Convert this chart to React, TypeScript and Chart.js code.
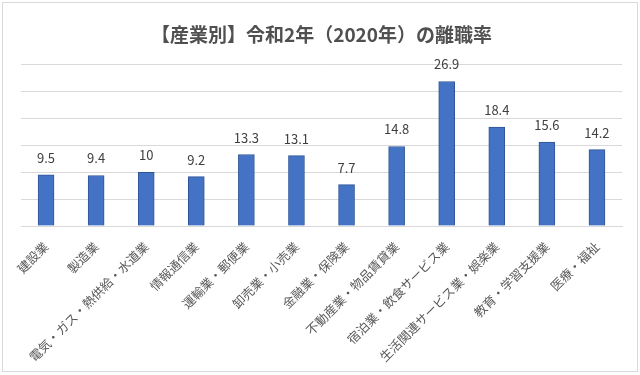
import React, { useEffect, useRef } from "react";
import { Chart, registerables } from "chart.js";

Chart.register(...registerables);

const TITLE = "【産業別】令和2年（2020年）の離職率";
const categories = [
  "建設業",
  "製造業",
  "電気・ガス・熱供給・水道業",
  "情報通信業",
  "運輸業・郵便業",
  "卸売業・小売業",
  "金融業・保険業",
  "不動産業・物品賃貸業",
  "宿泊業・飲食サービス業",
  "生活関連サービス業・娯楽業",
  "教育・学習支援業",
  "医療・福祉",
];
const rates = [9.5, 9.4, 10, 9.2, 13.3, 13.1, 7.7, 14.8, 26.9, 18.4, 15.6, 14.2];
const yMax = 30;
const yStep = 5;

const FONT = "'Noto Sans CJK JP', 'Noto Sans', sans-serif";

const dataLabels = {
  id: "dataLabels",
  afterDatasetsDraw(chart: any) {
    const ctx = chart.ctx;
    const meta = chart.getDatasetMeta(0);
    const data = chart.data.datasets[0].data as number[];
    ctx.save();
    ctx.font = `13px ${FONT}`;
    ctx.fillStyle = "#404040";
    ctx.textAlign = "center";
    ctx.textBaseline = "alphabetic";
    meta.data.forEach((bar: any, i: number) => {
      ctx.fillText(String(data[i]), bar.x, bar.y - 12);
    });
    ctx.restore();
  },
};

export default function App() {
  const ref = useRef<HTMLCanvasElement>(null);
  useEffect(() => {
    if (!ref.current) return;
    const chart = new Chart(ref.current, {
      type: "bar",
      data: {
        labels: categories,
        datasets: [
          {
            data: rates,
            backgroundColor: "#4472C4",
            borderColor: "#2F5597",
            borderWidth: 1,
            barThickness: 16,
          },
        ],
      },
      options: {
        animation: false,
        responsive: false,
        maintainAspectRatio: false,
        layout: { padding: { left: 21, right: 18, top: 0, bottom: 0 } },
        plugins: {
          legend: { display: false },
          tooltip: { enabled: false },
          title: {
            display: true,
            text: TITLE,
            color: "#505050",
            font: { family: FONT, size: 19, weight: "bold" },
            padding: { top: 23, bottom: 19 },
          },
        },
        scales: {
          x: {
            grid: { display: false },
            border: { color: "#d9d9d9" },
            ticks: {
              color: "#595959",
              font: { family: FONT, size: 12.5 },
              minRotation: 45,
              maxRotation: 45,
              autoSkip: false,
              padding: 5,
            },
            afterFit: (s: any) => {
              s.height = 149;
            },
          },
          y: {
            min: 0,
            max: yMax,
            ticks: { display: false, stepSize: yStep },
            grid: { color: "#d9d9d9", drawTicks: false },
            border: { display: false },
            afterFit: (s: any) => {
              s.width = 0;
            },
          },
        },
      },
      plugins: [dataLabels],
    });
    return () => chart.destroy();
  }, []);
  return (
    <div style={{ position: "fixed", left: 0, top: 0, width: 640, height: 375, background: "#fff" }}>
      <canvas ref={ref} width={640} height={375} style={{ position: "absolute", left: 0, top: 0 }} />
      <div
        style={{
          position: "absolute",
          left: 2,
          top: 2,
          width: 634,
          height: 368,
          border: "1px solid #d9d9d9",
          pointerEvents: "none",
        }}
      />
    </div>
  );
}
